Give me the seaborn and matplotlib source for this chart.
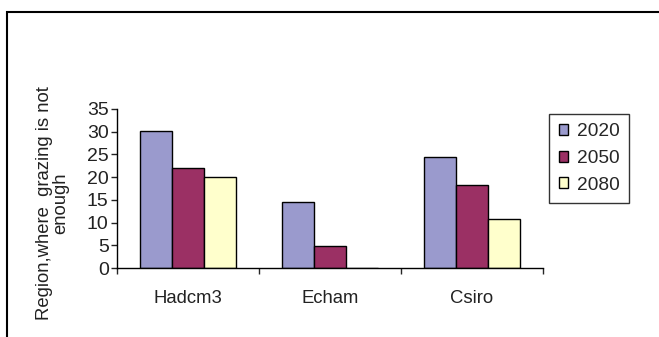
"""
Regions where grazing is not enough, by climate model and year.
"""

import pandas as pd
import seaborn as sns
import matplotlib.pyplot as plt
from matplotlib.patches import Rectangle
from matplotlib.ticker import FixedLocator

models = ["Hadcm3", "Echam", "Csiro"]
years = ["2020", "2050", "2080"]
values_2020 = [30.2, 14.5, 24.5]
values_2050 = [22.0, 4.9, 18.3]
values_2080 = [20.1, 0.0, 10.7]
colors = ["#9A9ACD", "#9B3064", "#FFFFCC"]

df = pd.DataFrame({
    "model": models * 3,
    "year": [y for y in years for _ in models],
    "value": values_2020 + values_2050 + values_2080,
})

sns.set_style("white")
plt.rcParams["font.family"] = ["Liberation Sans", "DejaVu Sans"]

fig = plt.figure(figsize=(6.59, 3.37), dpi=100)
ax = fig.add_axes([0.1775, 0.2047, 0.6465, 0.4719])

sns.barplot(data=df, x="model", y="value", hue="year", palette=colors,
            width=0.67, edgecolor="black", linewidth=1.0, saturation=1,
            ax=ax)

ax.set_ylim(0, 35)
ax.set_xlim(-0.5, 2.5)
ax.set_yticks(range(0, 36, 5))
ax.tick_params(axis="y", labelsize=14, length=4, width=1, direction="out",
               left=True, pad=2, colors="#222222")
ax.tick_params(axis="x", which="major", length=0, labelsize=13.3, pad=16,
               colors="#222222")
ax.xaxis.set_minor_locator(FixedLocator([-0.5, 0.5, 1.5, 2.5]))
ax.tick_params(axis="x", which="minor", length=4, width=1, direction="out",
               bottom=True)
ax.set_xlabel("")
for side in ["top", "right"]:
    ax.spines[side].set_visible(False)
for side in ["left", "bottom"]:
    ax.spines[side].set_color("black")
    ax.spines[side].set_linewidth(1)

ax.set_ylabel("Region,where  grazing is not\nenough", fontsize=13.3,
              va="center", linespacing=0.95, color="#222222")
ax.yaxis.set_label_coords(-0.152, 0.41)

leg = ax.legend(loc="upper left", bbox_to_anchor=(1.014, 0.969),
                borderaxespad=0, fontsize=13.8, frameon=True, fancybox=False,
                handlelength=0.5, handleheight=0.5, handletextpad=0.45,
                labelspacing=0.5, borderpad=0.5, title=None)
leg.get_frame().set_edgecolor("black")
leg.get_frame().set_linewidth(1)

fig.add_artist(Rectangle((7 / 659, -0.1), 1.2, 1.064, transform=fig.transFigure,
                         fill=False, edgecolor="black", linewidth=1.5,
                         clip_on=False))

plt.savefig("out.png", dpi=100)
